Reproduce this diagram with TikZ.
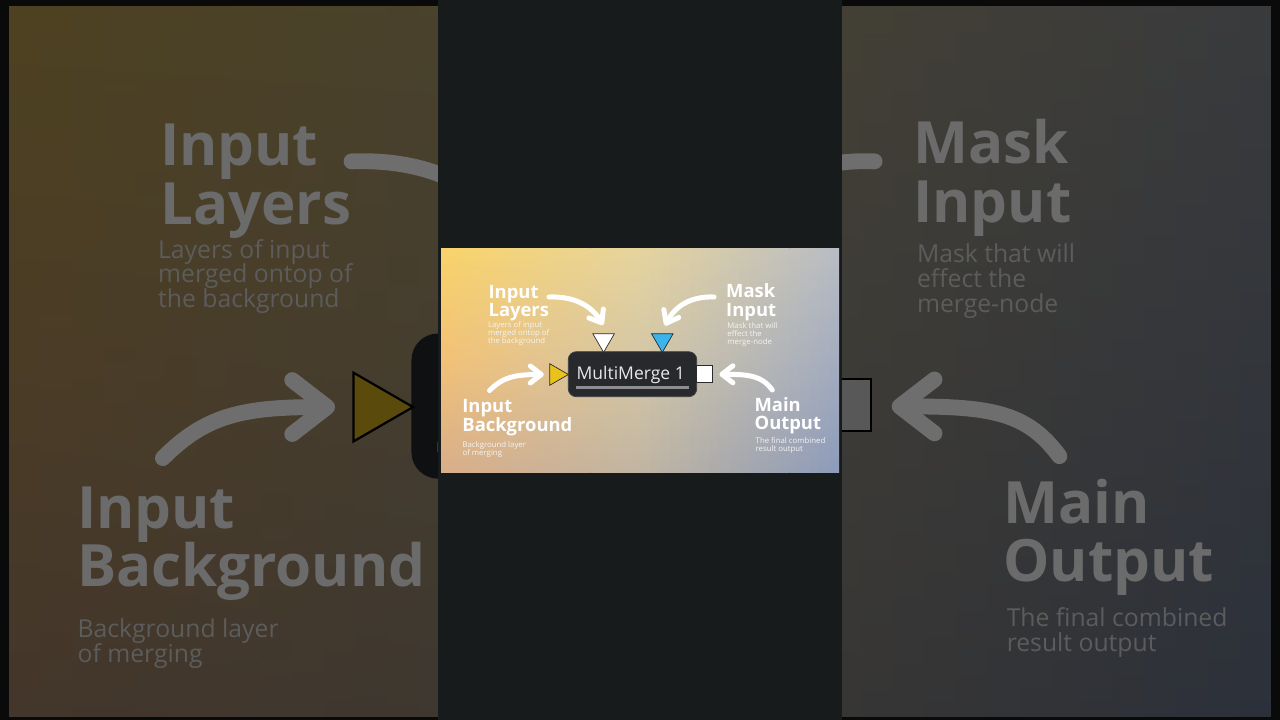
\documentclass[tikz,border=0pt]{standalone}
\usepackage{fontspec}
\setmainfont{Open Sans}
\usetikzlibrary{arrows.meta,calc,shapes.geometric}

\definecolor{fTL}{HTML}{F9D36A}
\definecolor{fTC}{HTML}{E6D49E}
\definecolor{fTR}{HTML}{B8BCC4}
\definecolor{fML}{HTML}{F2C177}
\definecolor{fMC}{HTML}{D4C7A7}
\definecolor{fMR}{HTML}{A3ACBF}
\definecolor{fBL}{HTML}{D9AE8A}
\definecolor{fBC}{HTML}{C0B5A2}
\definecolor{fBR}{HTML}{8D9BBA}
\definecolor{outerbg}{HTML}{0A0A0A}
\definecolor{stripbg}{HTML}{181B1C}

\newcommand\dgsetfg{%
  \colorlet{gTL}{fTL}\colorlet{gTC}{fTC}\colorlet{gTR}{fTR}%
  \colorlet{gML}{fML}\colorlet{gMC}{fMC}\colorlet{gMR}{fMR}%
  \colorlet{gBL}{fBL}\colorlet{gBC}{fBC}\colorlet{gBR}{fBR}%
  \definecolor{cTxt}{HTML}{FFFFFF}\definecolor{cDesc}{HTML}{F4F4F4}%
  \definecolor{cArrow}{HTML}{FFFFFF}\definecolor{cNode}{HTML}{27292D}%
  \definecolor{cNodeEdge}{HTML}{3C3F44}\definecolor{cNodeTxt}{HTML}{E8E8E8}%
  \definecolor{cBar}{HTML}{8C8E91}\definecolor{cEdge}{HTML}{2B2B2B}%
  \definecolor{cWhite}{HTML}{FFFFFF}\definecolor{cBlue}{HTML}{3AB4EA}%
  \definecolor{cYel}{HTML}{E9C31C}}
\newcommand\dgsetbg{%
  \colorlet{gTL}{fTL!31!black}\colorlet{gTC}{fTC!31!black}\colorlet{gTR}{fTR!31!black}%
  \colorlet{gML}{fML!31!black}\colorlet{gMC}{fMC!31!black}\colorlet{gMR}{fMR!31!black}%
  \colorlet{gBL}{fBL!31!black}\colorlet{gBC}{fBC!31!black}\colorlet{gBR}{fBR!31!black}%
  \definecolor{cTxt}{HTML}{6B6B6B}\definecolor{cDesc}{HTML}{5C5C5C}%
  \definecolor{cArrow}{HTML}{6E6E6E}\definecolor{cNode}{HTML}{0F1012}%
  \definecolor{cNodeEdge}{HTML}{0F1012}\definecolor{cNodeTxt}{HTML}{505050}%
  \definecolor{cBar}{HTML}{333333}\definecolor{cEdge}{HTML}{000000}%
  \definecolor{cWhite}{HTML}{585858}\definecolor{cBlue}{HTML}{1A4A60}%
  \definecolor{cYel}{HTML}{5A4B0C}}

\tikzset{
  head/.style={anchor=base west, inner sep=0pt, align=left, text=cTxt,
    font=\bfseries\fontsize{18.4}{18.5}\selectfont},
  desc/.style={anchor=base west, inner sep=0pt, align=left, text=cDesc,
    font=\fontsize{7.8}{7.85}\selectfont},
  mmnode/.style={rounded corners=8pt, fill=cNode, draw=cNodeEdge, line width=0.8pt,
    minimum width=128.4pt, minimum height=45pt, inner sep=0pt},
  mmtext/.style={anchor=base, inner sep=0pt, text=cNodeTxt,
    font=\fontsize{17.5}{20}\selectfont},
  mmbar/.style={draw=cBar, line width=3.2pt},
  port/.style={regular polygon, regular polygon sides=3, minimum size=25pt,
    inner sep=0pt, draw=cEdge, line width=0.7pt},
  sqport/.style={rectangle, minimum size=16.5pt, inner sep=0pt, fill=cWhite,
    draw=cEdge, line width=0.7pt},
  flow/.style={draw=cArrow, line width=5pt, line cap=round,
    -{Straight Barb[length=11pt,width=17pt,round]}},
}

\newcommand\drawdiagram{%
  \begin{scope}
    \clip (441,248) rectangle (839,472);
    \foreach \k in {0,...,39}{%
      \pgfmathsetmacro\dgT{(\k+0.5)/40}%
      \pgfmathsetmacro\dgX{441+\k*9.95}%
      \ifdim\dgT pt<0.5pt
        \pgfmathsetmacro\dgP{200*\dgT}%
        \colorlet{sT}{gTC!\dgP!gTL}\colorlet{sM}{gMC!\dgP!gML}\colorlet{sB}{gBC!\dgP!gBL}%
      \else
        \pgfmathsetmacro\dgP{200*\dgT-100}%
        \colorlet{sT}{gTR!\dgP!gTC}\colorlet{sM}{gMR!\dgP!gMC}\colorlet{sB}{gBR!\dgP!gBC}%
      \fi
      \shade[top color=sT, bottom color=sB, middle color=sM] (\dgX,248) rectangle (\dgX+10.4,472);
    }
  \end{scope}
  % merge node
  \node[mmnode] (mm) at (632.5,374.2) {};
  \node[mmtext] (mmt) at (630.7,379) {MultiMerge 1};
  \draw[mmbar] ($(mm.south west)+(8,-10)$) -- ($(mm.south east)+(-8.5,-10)$);
  % ports
  \node[port, regular polygon rotate=180, fill=cWhite] (pL) at (603.6,339.9) {};
  \node[port, regular polygon rotate=180, fill=cBlue] (pM) at (662.3,339.9) {};
  \node[port, regular polygon rotate=-90, fill=cYel] (pY) at (555.9,374.5) {};
  \node[sqport] (pO) at (704.5,373.8) {};
  % labels (anchor = baseline of the last line)
  \node[head] (hIL) at (488.4,316.8) {Input\\Layers};
  \node[desc] (dIL) at (487.8,343.2) {Layers of input\\merged ontop of\\the background};
  \node[head] (hMI) at (726,316.2) {Mask\\Input};
  \node[desc] (dMI) at (727.2,344.6) {Mask that will\\effect the\\merge-node};
  \node[head] (hIB) at (462.2,431.2) {Input\\Background};
  \node[desc] (dIB) at (462.4,455) {Background layer\\of merging};
  \node[head] (hMO) at (754.4,429.6) {Main\\Output};
  \node[desc] (dMO) at (755.5,451.7) {The final combined\\result output};
  % arrows
  \coordinate (sIL) at (549,297);
  \coordinate (sMI) at (714,297);
  \coordinate (sIB) at (489.5,390.6);
  \coordinate (sMO) at (772.3,390);
  \coordinate (eIL) at ($(pL.north)+(-0.5,-8.3)$);
  \coordinate (eMI) at ($(pM.north)+(2.7,-7.8)$);
  \coordinate (eIB) at ($(pY.west)+(-5.5,0)$);
  \coordinate (eMO) at ($(pO.east)+(6.3,0.5)$);
  \draw[flow] (sIL) .. controls +(29,-1) and +(-10,-16.5) .. (eIL);
  \draw[flow] (sMI) .. controls +(-26,-1) and +(9,-17) .. (eMI);
  \draw[flow] (sIB) .. controls +(13.5,-13.6) and +(-29,0) .. (eIB);
  \draw[flow] (sMO) .. controls +(-10.3,-14) and +(31,0) .. (eMO);
}

\begin{document}
\begin{tikzpicture}[x=1pt, y=-1pt]
  \useasboundingbox (0,0) rectangle (1280,720);
  \fill[outerbg] (0,0) rectangle (1280,720);
  \dgsetbg
  \begin{scope}[transform canvas={scale around={3.17:(640,359.5)}}]
    \drawdiagram
  \end{scope}
  \fill[stripbg] (438.3,0) rectangle (842.3,720);
  \dgsetfg
  \drawdiagram
\end{tikzpicture}
\end{document}
